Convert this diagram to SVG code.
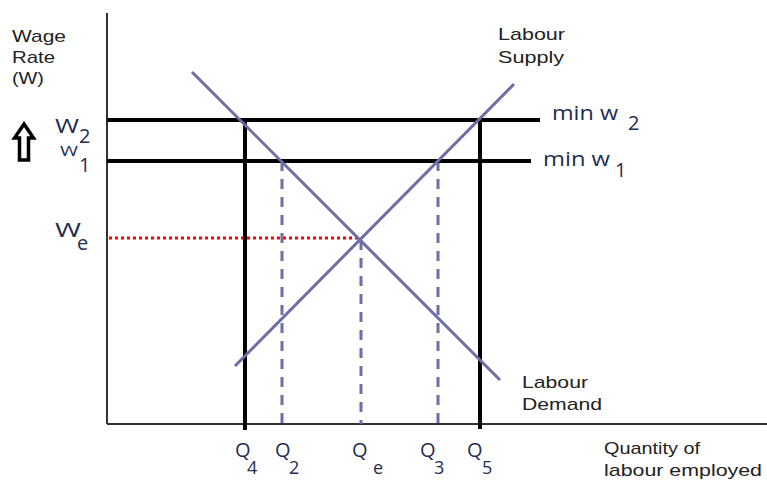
<svg xmlns="http://www.w3.org/2000/svg" width="767" height="480" viewBox="0 0 767 480">
<style>
.ax{stroke:#333;stroke-width:2;fill:none}
.thick{stroke:#000;stroke-width:4;fill:none}
.curve{stroke:#6e6ea6;stroke-width:3;fill:none}
.dash{stroke:#6e6ea6;stroke-width:3;fill:none;stroke-dasharray:10,8}
.dot{stroke:#ff0000;stroke-width:3;fill:none;stroke-dasharray:3,3}
.lbl{font-family:"Liberation Sans",Arial,sans-serif;font-size:17px;fill:#222}
.sym{font-family:"Open Sans","Liberation Sans",sans-serif;font-size:20px;fill:#1f2d50}
.sub{font-family:"Open Sans","Liberation Sans",sans-serif;font-size:20px;fill:#1f2d50}
.qs{font-family:"Open Sans","Liberation Sans",sans-serif;font-size:18px;fill:#1f2d50}
</style>
<g id="axes">
<line class="ax" x1="107" y1="13" x2="107" y2="424"/>
<line class="ax" x1="107" y1="424" x2="767" y2="424"/>
</g>
<g id="connectors">
<line class="dot" x1="109" y1="238" x2="358" y2="238"/>
<line class="dash" x1="282" y1="161" x2="282" y2="424"/>
<line class="dash" x1="361" y1="240" x2="361" y2="424"/>
<line class="dash" x1="438" y1="161" x2="438" y2="424"/>
<line class="thick" x1="107" y1="120" x2="540" y2="120"/>
<line class="thick" x1="107" y1="161" x2="531" y2="161"/>
<line class="thick" x1="245" y1="120" x2="245" y2="430"/>
<line class="thick" x1="480" y1="120" x2="480" y2="429"/>
</g>
<g id="demand">
<line class="curve" x1="192" y1="72" x2="500" y2="380"/>
<text class="lbl" x="522" y="388" textLength="66" lengthAdjust="spacingAndGlyphs">Labour</text>
<text class="lbl" x="522" y="410" textLength="80" lengthAdjust="spacingAndGlyphs">Demand</text>
</g>
<g id="supply">
<line class="curve" x1="235" y1="366" x2="514" y2="84"/>
<text class="lbl" x="498" y="40" textLength="67" lengthAdjust="spacingAndGlyphs">Labour</text>
<text class="lbl" x="498" y="63" textLength="66" lengthAdjust="spacingAndGlyphs">Supply</text>
</g>
<g id="y-label">
<text class="lbl" x="12" y="42" textLength="54" lengthAdjust="spacingAndGlyphs">Wage</text>
<text class="lbl" x="12" y="63" textLength="43" lengthAdjust="spacingAndGlyphs">Rate</text>
<text class="lbl" x="12" y="84" textLength="32" lengthAdjust="spacingAndGlyphs">(W)</text>
<path d="M24 124 L33.5 138 L28.5 138 L28.5 160 L19.5 160 L19.5 138 L14.5 138 Z" fill="none" stroke="#000" stroke-width="3.5" stroke-linejoin="miter"/>
</g>
<g id="x-label">
<text class="lbl" x="604" y="454" textLength="96" lengthAdjust="spacingAndGlyphs">Quantity of</text>
<text class="lbl" x="604" y="476" textLength="158" lengthAdjust="spacingAndGlyphs">labour employed</text>
</g>
<g id="wage-labels">
<text class="sym" x="55" y="133" textLength="24" lengthAdjust="spacingAndGlyphs">W</text><text class="sub" x="79" y="143">2</text>
<text class="sym" x="60" y="156" style="font-size:15px" textLength="18" lengthAdjust="spacingAndGlyphs">W</text><text class="sub" x="79" y="172">1</text>
<text class="sym" x="55" y="237" textLength="26" lengthAdjust="spacingAndGlyphs">W</text><text class="sub" x="77" y="250">e</text>
<text class="sym" x="552" y="120" textLength="66" lengthAdjust="spacingAndGlyphs">min w</text><text class="sub" x="628" y="130">2</text>
<text class="sym" x="543" y="166" textLength="67" lengthAdjust="spacingAndGlyphs">min w</text><text class="sub" x="615" y="177">1</text>
</g>
<g id="q-labels">
<text class="sym" x="235" y="457">Q</text><text class="qs" x="247" y="474">4</text>
<text class="sym" x="275" y="457">Q</text><text class="qs" x="289" y="474">2</text>
<text class="sym" x="352" y="457">Q</text><text class="qs" x="373" y="474">e</text>
<text class="sym" x="420" y="457">Q</text><text class="qs" x="434" y="474">3</text>
<text class="sym" x="467" y="457">Q</text><text class="qs" x="482" y="474">5</text>
</g>
</svg>
